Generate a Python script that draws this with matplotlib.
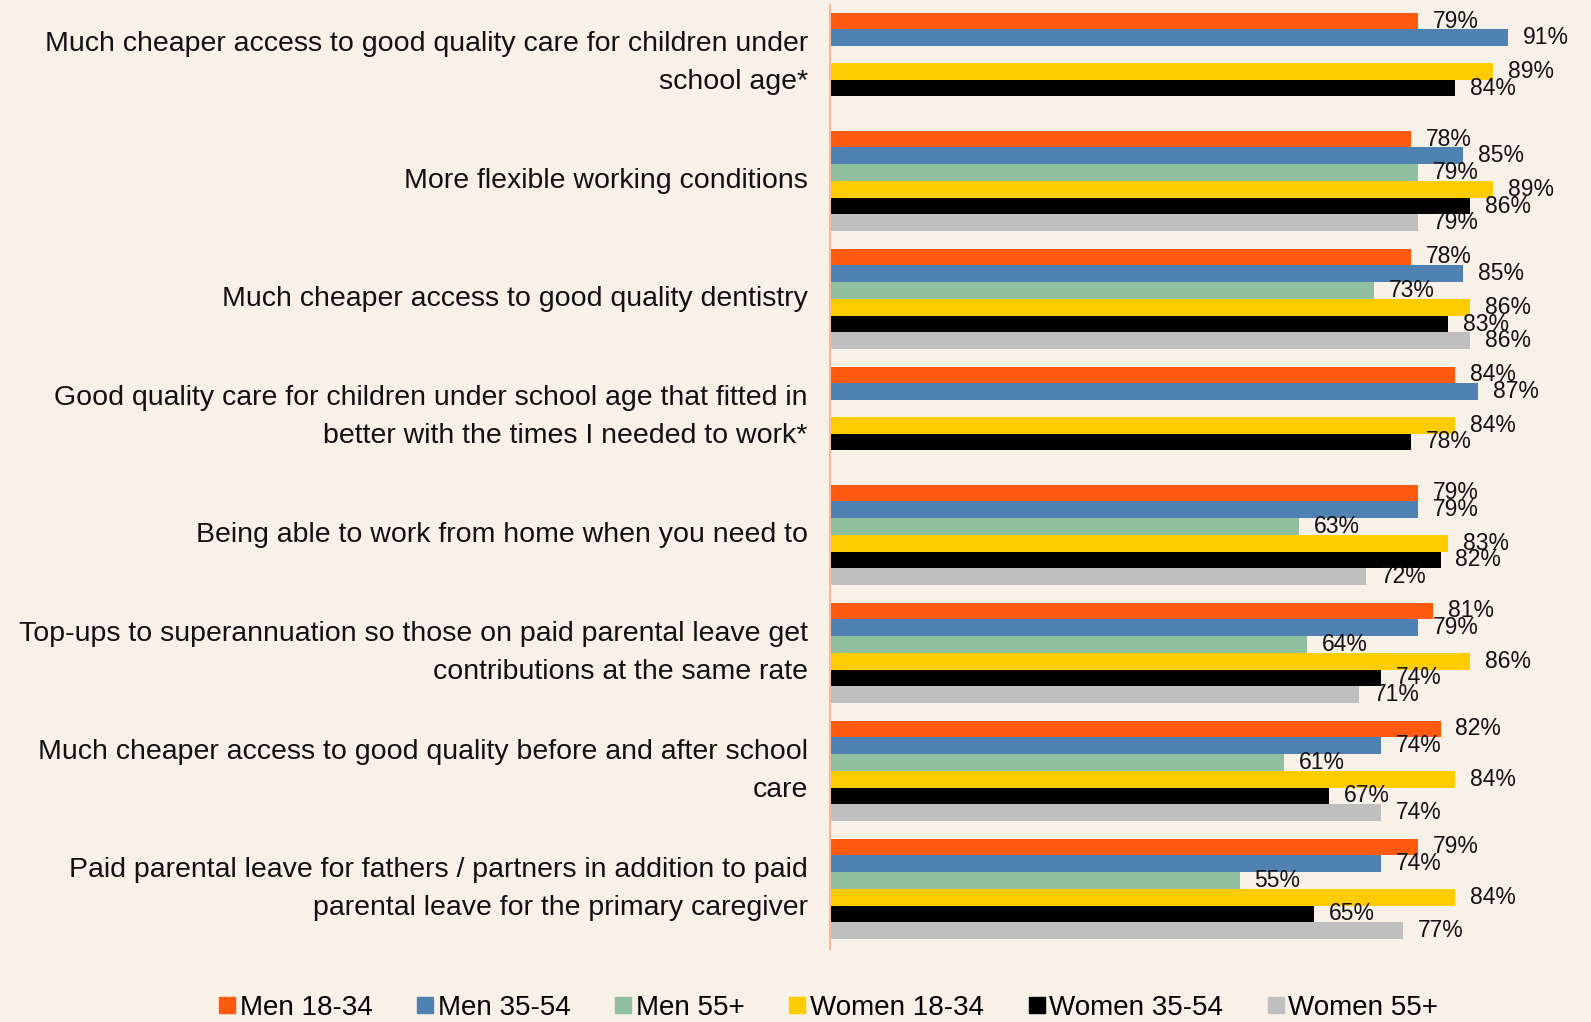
import numpy as np
import matplotlib.pyplot as plt
from matplotlib.lines import Line2D

# Categories, top to bottom
categories = [
    "Much cheaper access to good quality care for children under\nschool age*",
    "More flexible working conditions",
    "Much cheaper access to good quality dentistry",
    "Good quality care for children under school age that fitted in\nbetter with the times I needed to work*",
    "Being able to work from home when you need to",
    "Top-ups to superannuation so those on paid parental leave get\ncontributions at the same rate",
    "Much cheaper access to good quality before and after school\ncare",
    "Paid parental leave for fathers / partners in addition to paid\nparental leave for the primary caregiver",
]

series_names = ["Men 18-34", "Men 35-54", "Men 55+", "Women 18-34", "Women 35-54", "Women 55+"]

nan = np.nan
men_18_34 = [79, 78, 78, 84, 79, 81, 82, 79]
men_35_54 = [91, 85, 85, 87, 79, 79, 74, 74]
men_55 = [nan, 79, 73, nan, 63, 64, 61, 55]
women_18_34 = [89, 89, 86, 84, 83, 86, 84, 84]
women_35_54 = [84, 86, 83, 78, 82, 74, 67, 65]
women_55 = [nan, 79, 86, nan, 72, 71, 74, 77]

series = [men_18_34, men_35_54, men_55, women_18_34, women_35_54, women_55]
colors = ["#FF5A0F", "#4F81B3", "#8FBF9F", "#FFCC00", "#000000", "#BFBFBF"]

bg = "#F8F1E7"
plt.rcParams["font.family"] = ["Liberation Sans", "DejaVu Sans"]

fig = plt.figure(figsize=(15.91, 10.22), dpi=100, facecolor=bg)
ax = fig.add_axes([0.5217, 0.0715, 0.468, 0.9235])
ax.set_facecolor(bg)

n = len(series)
bar_h = 0.142
y = np.arange(len(categories))

for j, (vals, col) in enumerate(zip(series, colors)):
    pos = y + (j - (n - 1) / 2) * bar_h
    vals = np.array(vals, dtype=float)
    ax.barh(pos, vals, height=bar_h, color=col, label=series_names[j])
    for p, v in zip(pos, vals):
        if np.isnan(v):
            continue
        ax.text(v + 2.0, p, f"{v:.0f}%", va="center", ha="left",
                fontsize=16.5, color="#111111")

ax.set_xlim(0, 100)
ax.set_ylim(7.51, -0.49)
ax.set_xticks([])
ax.set_yticks(y)
ax.set_yticklabels(categories, fontsize=20.5, linespacing=1.6, color="#111111",
                   va="center")
ax.tick_params(axis="y", length=0, pad=16)

for s in ["top", "right", "bottom"]:
    ax.spines[s].set_visible(False)
ax.spines["left"].set_color("#F9B89A")
ax.spines["left"].set_linewidth(1.5)

handles = [Line2D([0], [0], marker="s", linestyle="none", markersize=12,
                  markerfacecolor=c, markeredgecolor=c) for c in colors]
fig.legend(handles, series_names, loc="lower center", ncol=6, frameon=False,
           bbox_to_anchor=(0.52, -0.023), fontsize=20, handletextpad=0.05,
           columnspacing=1.5, handlelength=0.8)

fig.savefig("out.png", dpi=100, facecolor=bg)
